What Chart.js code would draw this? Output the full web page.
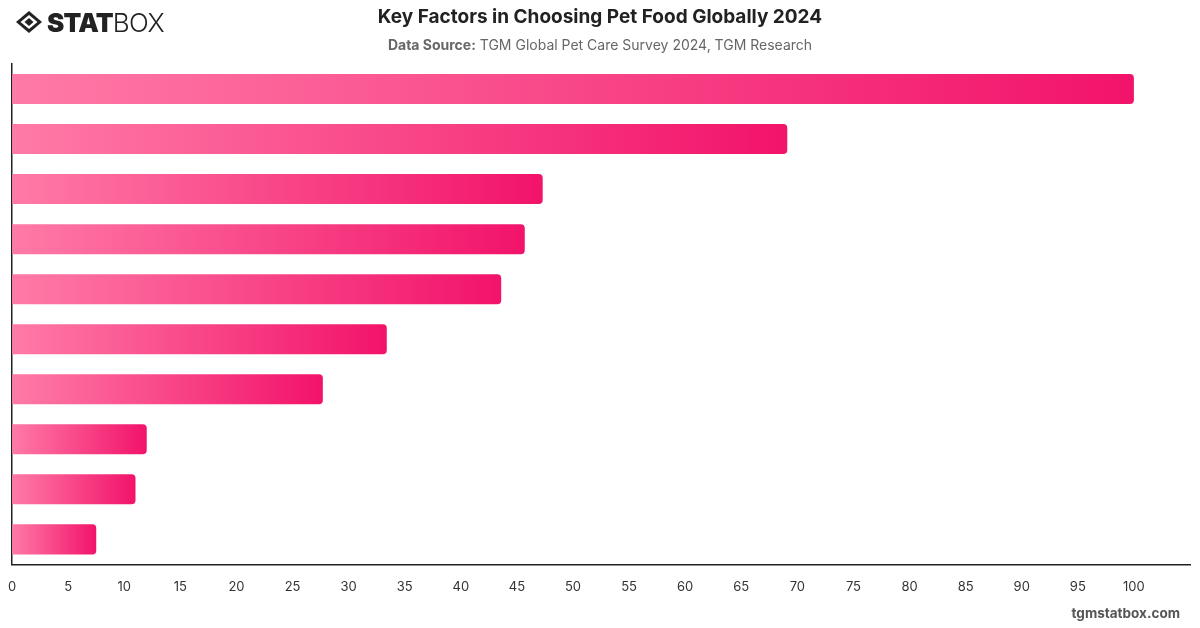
<!DOCTYPE html>
<html>
<head>
<meta charset="utf-8">
<script src="https://cdn.jsdelivr.net/npm/chart.js@4.4.1/dist/chart.umd.min.js"></script>
<style>
  html, body { margin: 0; padding: 0; background: #fff; }
  body { width: 1200px; height: 628px; position: relative; overflow: hidden; font-family: Inter, "Noto Sans", sans-serif; }
  #logo { position: absolute; left: 15px; top: 8px; height: 28px; display: flex; align-items: center; }
  #logo .stat { font-family: Inter, sans-serif; font-weight: 900; font-size: 26px; color: #222; letter-spacing: -0.8px; margin-left: 4px; }
  #logo .box { font-family: Inter, sans-serif; font-weight: 300; font-size: 26px; color: #222; letter-spacing: -0.5px; }
  #title { position: absolute; left: 0; width: 1200px; top: 5px; text-align: center; font-size: 19px; font-weight: 700; color: #222; }
  #subtitle { position: absolute; left: 0; width: 1200px; top: 36px; text-align: center; font-size: 14px; color: #666; }
  #subtitle b { font-weight: 700; }
  #footer { position: absolute; right: 20px; top: 605px; font-size: 13.5px; font-weight: 700; color: #555; }
  #wrap { position: absolute; left: -7px; top: 0; width: 1200px; height: 628px; }
</style>
</head>
<body>
<div id="wrap"><canvas id="chart" width="1200" height="628"></canvas></div>
<div id="logo">
  <svg width="28" height="24" viewBox="0 0 28 24">
    <polygon points="14,1 27,12 14,23 1,12" fill="#222"/>
    <polygon points="14,5 22.5,12 14,19 5.5,12" fill="#fff"/>
    <polygon points="14,8 18.5,12 14,16 9.5,12" fill="#222"/>
  </svg>
  <span class="stat">STAT</span><span class="box">BOX</span>
</div>
<div id="title">Key Factors in Choosing Pet Food Globally 2024</div>
<div id="subtitle"><b>Data Source:</b> TGM Global Pet Care Survey 2024, TGM Research</div>
<div id="footer">tgmstatbox.com</div>

<script>
// Category names are not shown in the reference image
const categories = ['Factor 1', 'Factor 2', 'Factor 3', 'Factor 4', 'Factor 5',
  'Factor 6', 'Factor 7', 'Factor 8', 'Factor 9', 'Factor 10'];
const shareValues = [100, 69.1, 47.3, 45.7, 43.6, 33.4, 27.7, 12.0, 11.0, 7.5];
const axisMax = 105;
const tickStep = 5;
const tickLast = 100;

/**
 * Per-bar gradient from light pink to deep pink along the bar length
 */
function barGradient(context) {
  const chart = context.chart;
  const { ctx, chartArea, scales } = chart;
  if (!chartArea || !scales.x) return '#f5437f';
  const value = context.raw || 0;
  const x0 = scales.x.getPixelForValue(0);
  const x1 = scales.x.getPixelForValue(value);
  if (x1 - x0 < 1) return '#f5437f';
  const g = ctx.createLinearGradient(x0, 0, x1, 0);
  g.addColorStop(0, '#ff7aa7');
  g.addColorStop(1, '#f2136a');
  return g;
}

const ctx = document.getElementById('chart').getContext('2d');
new Chart(ctx, {
  type: 'bar',
  data: {
    labels: categories,
    datasets: [
      {
        data: shareValues,
        backgroundColor: barGradient,
        borderRadius: 4,
        borderSkipped: 'start',
        barPercentage: 0.6,
        categoryPercentage: 1,
      },
    ],
  },
  options: {
    indexAxis: 'y',
    responsive: false,
    animation: false,
    layout: { padding: { top: 64, left: 4, right: 3, bottom: 18 } },
    plugins: {
      legend: { display: false },
      tooltip: { enabled: false },
    },
    scales: {
      x: {
        min: 0,
        max: axisMax,
        grid: { display: false, drawTicks: false },
        border: { display: true, color: '#222', width: 1.5 },
        afterBuildTicks: (axis) => {
          axis.ticks = [];
          for (let v = 0; v <= tickLast; v += tickStep) axis.ticks.push({ value: v });
        },
        ticks: {
          padding: 15,
          color: '#333',
          font: { family: 'Inter', size: 13 },
          maxRotation: 0,
        },
      },
      y: {
        grid: { display: false, drawTicks: false },
        border: { display: true, color: '#222', width: 1.5 },
        ticks: { display: false },
      },
    },
  },
});
</script>
</body>
</html>
